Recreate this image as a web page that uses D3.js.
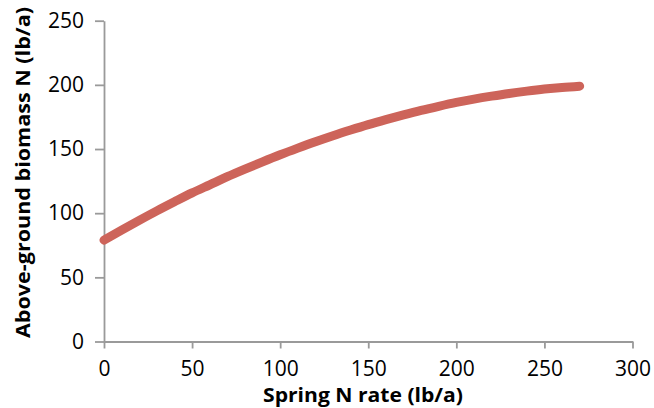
<!DOCTYPE html>
<html>
<head>
<meta charset="utf-8">
<script src="https://cdn.jsdelivr.net/npm/d3@7"></script>
<style>
  html, body { margin: 0; padding: 0; background: #fff; }
  svg { display: block; }
  text { font-family: "Open Sans", Lato, sans-serif; fill: #000; }
</style>
</head>
<body>
<svg id="chart" width="654" height="408"></svg>
<script>
// Spring N rate (lb/a)
const nRate = [0, 10, 20, 30, 40, 50, 60, 70, 80, 90, 100, 110, 120, 130, 140,
               150, 160, 170, 180, 190, 200, 210, 220, 230, 240, 250, 260, 270];
// Above-ground biomass N (lb/a)
const biomassN = [79, 86.8, 94.4, 101.8, 108.9, 115.8, 122.1, 128.4, 134.3, 140.0,
                  145.5, 150.7, 155.7, 160.4, 164.8, 169.0, 172.9, 176.6, 180.1, 183.3,
                  186.3, 188.9, 191.2, 193.3, 195.1, 196.7, 198.0, 199.0];
const xTicks = [0, 50, 100, 150, 200, 250, 300];
const yTicks = [0, 50, 100, 150, 200, 250];
const xTitle = "Spring N rate (lb/a)";
const yTitle = "Above-ground biomass N (lb/a)";

const svg = d3.select("#chart");
const x = d3.scaleLinear().domain([0, 300]).range([104, 632.5]);
const y = d3.scaleLinear().domain([0, 250]).range([341.5, 20.7]);
const axisColor = "#9a9a9a";

// Y axis
const yAxis = svg.append("g").attr("transform", `translate(${x(0)},0)`)
  .call(d3.axisLeft(y).tickValues(yTicks).tickSize(9).tickPadding(11).tickSizeOuter(0));
// X axis
const xAxis = svg.append("g").attr("transform", `translate(0,${y(0)})`)
  .call(d3.axisBottom(x).tickValues(xTicks).tickSize(7).tickPadding(13).tickSizeOuter(0));

[xAxis, yAxis].forEach(a => {
  a.selectAll("path.domain").attr("stroke", axisColor).attr("stroke-width", 1.8);
  a.selectAll(".tick line").attr("stroke", axisColor).attr("stroke-width", 1.8);
  a.selectAll(".tick text").attr("font-family", '"Open Sans", sans-serif')
    .attr("font-size", 21).attr("fill", "#000");
});

// Curve
const line = d3.line()
  .x((d, i) => x(nRate[i]))
  .y(d => y(d))
  .curve(d3.curveMonotoneX);
svg.append("path")
  .datum(biomassN)
  .attr("d", line)
  .attr("fill", "none")
  .attr("stroke", "#CD645A")
  .attr("stroke-width", 9)
  .attr("stroke-linecap", "round")
  .attr("stroke-linejoin", "round");

// Axis titles
svg.append("text")
  .attr("x", 363).attr("y", 402)
  .attr("text-anchor", "middle")
  .attr("font-weight", "bold")
  .attr("font-size", 20)
  .attr("textLength", 200)
  .attr("lengthAdjust", "spacingAndGlyphs")
  .text(xTitle);

svg.append("text")
  .attr("transform", "translate(30,172.5) rotate(-90)")
  .attr("text-anchor", "middle")
  .attr("font-weight", "bold")
  .attr("font-size", 20)
  .attr("textLength", 331)
  .attr("lengthAdjust", "spacingAndGlyphs")
  .text(yTitle);
</script>
</body>
</html>
